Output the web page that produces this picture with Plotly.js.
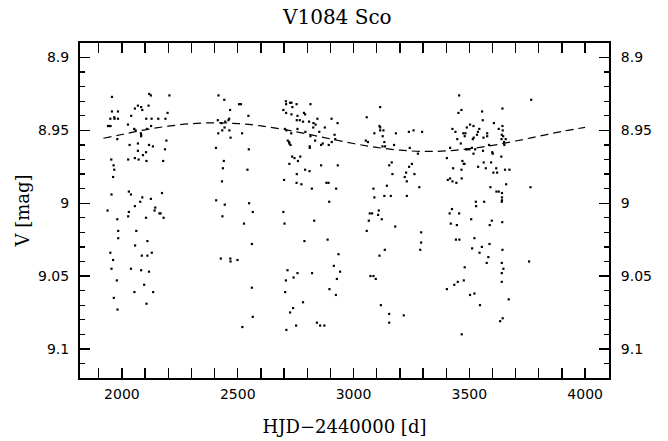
<!DOCTYPE html>
<html>
<head>
<meta charset="utf-8">
<script src="https://cdn.plot.ly/plotly-3.0.1.min.js"></script>
<style>html,body{margin:0;padding:0;background:#fff;}#chart{width:668px;height:441px;}</style>
</head>
<body>
<div id="chart"></div>
<script>
// Observations (HJD-2440000, V mag)
const hjd = [
1957,2118,2125,2205,2056,2069,2083,2088,2115,1957,1983,2197,2040,1950,1967,1968,1983,2105,2128,2157,2188,1944,1951,1940,2026,2053,2059,2108,2126,2082,2083,2083,1980,2192,2033,2069,2117,2134,2186,2069,2104,2091,1954,2027,2056,2072,2106,2178,1964,1967,1962,1955,2030,2039,2088,2125,2173,2056,2079,1938,1980,2027,2030,2104,2144,2141,2162,2167,2180,1984,2062,1984,2110,2057,1950,2129,1962,2086,2110,1955,2039,2083,2117,1978,2096,2054,2135,1965,2106,1981,
2417,2442,2467,2506,2514,2546,2414,2430,2446,2460,2463,2433,2443,2464,2416,2469,2519,2406,2548,2440,2436,2542,2432,2407,2444,2549,2565,2434,2527,2561,2427,2468,2469,2499,2561,2565,2520,
2708,2709,2726,2732,2754,2736,2814,2697,2709,2732,2758,2786,2791,2755,2768,2782,2808,2827,2836,2844,2905,2931,2876,2826,2758,2704,2710,2731,2792,2852,2814,2918,2716,2722,2723,2728,2834,2867,2860,2893,2906,2921,2811,2811,2735,2745,2770,2760,2723,2860,2932,2791,2810,2755,2700,2754,2775,2883,2892,2820,2925,2895,2697,2702,2830,2788,2888,2935,2915,2942,2715,2758,2821,2741,2708,2928,2896,2705,2924,2782,2739,2726,2842,2856,2874,2752,2710,
3057,3115,3112,3115,3129,3115,3090,3126,3053,3062,3133,3125,3136,3175,3183,3239,3259,3296,3243,3278,3165,3154,3252,3240,3168,3227,3221,3263,3230,3144,3086,3284,3090,3133,3161,3230,3109,3106,3070,3080,3122,3066,3180,3057,3292,3292,3135,3288,3112,3073,3086,3096,3118,3154,3154,3217,
3456,3466,3453,3555,3643,3767,3558,3606,3427,3440,3489,3503,3518,3474,3483,3480,3448,3463,3519,3515,3533,3543,3537,3561,3577,3577,3627,3643,3644,3640,3646,3639,3657,3650,3651,3585,3599,3601,3638,3417,3486,3490,3500,3511,3525,3518,3559,3403,3470,3476,3479,3466,3562,3594,3430,3538,3571,3616,3604,3620,3654,3673,3467,3407,3417,3427,3444,3659,3591,3764,3617,3627,3641,3641,3641,3640,3528,3529,3564,3425,3415,3456,3508,3597,3588,3642,3420,3446,3522,3442,3457,3512,3554,3587,3544,3643,3582,3575,3640,3647,3640,3480,3758,3476,3450,3435,3640,3403,3503,3522,3546,3670,3644,3633,3467
];
const vmag = [
8.927,8.925,8.926,8.926,8.935,8.933,8.934,8.936,8.933,8.937,8.937,8.938,8.940,8.942,8.941,8.942,8.942,8.942,8.942,8.942,8.942,8.947,8.947,8.947,8.946,8.949,8.950,8.949,8.947,8.952,8.953,8.954,8.956,8.957,8.960,8.959,8.960,8.961,8.963,8.964,8.965,8.967,8.970,8.970,8.969,8.970,8.971,8.971,8.974,8.977,8.982,8.994,8.992,8.994,8.996,8.997,8.993,9.002,8.999,9.005,9.011,9.009,9.006,9.010,9.003,9.005,9.007,9.007,9.010,9.019,9.019,9.024,9.026,9.029,9.034,9.034,9.039,9.036,9.036,9.045,9.045,9.046,9.047,9.053,9.056,9.061,9.061,9.065,9.069,9.073,
8.926,8.929,8.936,8.932,8.932,8.940,8.943,8.945,8.944,8.943,8.942,8.950,8.948,8.950,8.952,8.955,8.952,8.962,8.963,8.971,8.976,8.977,8.985,8.998,9.001,9.000,9.006,9.009,9.014,9.028,9.038,9.038,9.040,9.039,9.058,9.078,9.085,
8.930,8.932,8.931,8.931,8.932,8.934,8.932,8.936,8.938,8.939,8.940,8.938,8.939,8.943,8.943,8.944,8.944,8.945,8.946,8.942,8.942,8.945,8.948,8.948,8.949,8.949,8.950,8.952,8.951,8.951,8.954,8.953,8.957,8.958,8.959,8.960,8.957,8.959,8.960,8.960,8.958,8.956,8.961,8.962,8.968,8.969,8.968,8.971,8.973,8.974,8.974,8.977,8.978,8.980,8.984,8.986,8.987,8.986,8.986,8.990,8.990,8.999,9.006,9.014,9.012,9.026,9.025,9.035,9.043,9.047,9.046,9.048,9.048,9.051,9.053,9.052,9.059,9.061,9.063,9.068,9.072,9.075,9.082,9.084,9.084,9.084,9.087,
8.941,8.934,8.947,8.948,8.950,8.950,8.952,8.954,8.957,8.958,8.958,8.961,8.961,8.960,8.952,8.951,8.950,8.951,8.962,8.966,8.972,8.974,8.973,8.975,8.980,8.979,8.982,8.980,8.985,8.988,8.990,8.989,8.996,8.995,8.995,8.995,9.005,9.008,9.007,9.007,9.011,9.012,9.016,9.019,9.020,9.027,9.032,9.032,9.036,9.050,9.050,9.052,9.070,9.076,9.082,9.077,
8.926,8.936,8.938,8.937,8.935,8.929,8.943,8.945,8.949,8.951,8.948,8.946,8.947,8.952,8.952,8.954,8.956,8.959,8.955,8.956,8.953,8.949,8.951,8.955,8.952,8.954,8.949,8.947,8.950,8.953,8.954,8.956,8.956,8.958,8.960,8.960,8.965,8.966,8.968,8.962,8.963,8.963,8.963,8.962,8.963,8.966,8.964,8.969,8.971,8.973,8.973,8.977,8.972,8.972,8.976,8.975,8.976,8.976,8.979,8.979,8.977,8.977,8.983,8.984,8.983,8.985,8.986,8.987,8.989,8.989,8.992,8.992,8.993,8.996,8.998,8.999,8.999,9.002,8.999,9.004,9.007,9.007,9.011,9.012,9.015,9.013,9.014,9.015,9.024,9.025,9.025,9.031,9.030,9.028,9.034,9.032,9.037,9.041,9.041,9.045,9.048,9.044,9.040,9.053,9.054,9.056,9.054,9.059,9.063,9.062,9.070,9.066,9.079,9.081,9.090
];
// Fitted curve
const fitX = [1920,2000,2100,2200,2300,2400,2500,2600,2700,2800,2900,3000,3100,3200,3300,3400,3500,3600,3700,3800,3900,4000];
const fitY = [8.9554,8.9528,8.9496,8.9471,8.9454,8.9448,8.9453,8.9469,8.9494,8.9525,8.9558,8.9590,8.9617,8.9636,8.9644,8.9641,8.9626,8.9603,8.9573,8.9540,8.9507,8.9479];
// Axis ticks
const yTickVals = [8.9, 8.95, 9.0, 9.05, 9.1];
const yTickText = ['8.9', '8.95', '9', '9.05', '9.1'];
const xTickVals = [2000, 2500, 3000, 3500, 4000];
const xRange = [1819, 4103];
const yRange = [9.12, 8.89];

const tickFont = {family: 'DejaVu Sans, sans-serif', size: 14, color: '#000'};
const serif = 'DejaVu Serif, serif';

const traces = [
  {x: fitX, y: fitY, mode: 'lines', type: 'scatter', line: {color: '#000', width: 1.2, dash: '8px,5px', shape: 'spline'}, hoverinfo: 'skip'},
  {x: hjd, y: vmag, mode: 'markers', type: 'scatter', marker: {symbol: 'square', size: 2.2, color: '#000', line: {width: 0}}},
  {x: [], y: [], xaxis: 'x', yaxis: 'y2', type: 'scatter', mode: 'markers'}
];

const axisCommon = {ticks: 'inside', linecolor: '#000', linewidth: 2, tickcolor: '#000', tickwidth: 1.3, showgrid: false, zeroline: false, tickfont: tickFont};

const layout = {
  width: 668, height: 441,
  margin: {l: 80, r: 59, t: 43, b: 63},
  paper_bgcolor: '#fff', plot_bgcolor: '#fff',
  showlegend: false,
  title: {text: 'V1084 Sco', font: {family: serif, size: 20, color: '#000'}, xref: 'container', x: 0.505, xanchor: 'center', yref: 'container', y: 0.961, yanchor: 'middle'},
  xaxis: Object.assign({}, axisCommon, {
    range: xRange, tickvals: xTickVals, ticklen: 10, mirror: 'allticks', showline: true,
    minor: {dtick: 100, tick0: 0, ticklen: 5, ticks: 'inside', tickcolor: '#000', tickwidth: 1.3, showgrid: false},
    ticklabelstandoff: 2,
    title: {text: 'HJD\u22122440000 [d]', font: {family: serif, size: 18, color: '#000'}, standoff: 20}
  }),
  yaxis: Object.assign({}, axisCommon, {
    range: yRange, tickvals: yTickVals, ticktext: yTickText, ticklen: 10, showline: true, mirror: false,
    minor: {dtick: 0.01, tick0: 8.9, ticklen: 5, ticks: 'inside', tickcolor: '#000', tickwidth: 1.3, showgrid: false},
    ticklabelstandoff: 6,
    title: {text: 'V [mag]', font: {family: serif, size: 18, color: '#000'}, standoff: 4}
  }),
  yaxis2: Object.assign({}, axisCommon, {
    range: yRange, tickvals: yTickVals, ticktext: yTickText, ticklen: 10, showline: true,
    overlaying: 'y', side: 'right', anchor: 'x',
    minor: {dtick: 0.01, tick0: 8.9, ticklen: 5, ticks: 'inside', tickcolor: '#000', tickwidth: 1.3, showgrid: false},
    ticklabelstandoff: 7
  })
};

Plotly.newPlot('chart', traces, layout, {displayModeBar: false, staticPlot: true});
</script>
</body>
</html>
